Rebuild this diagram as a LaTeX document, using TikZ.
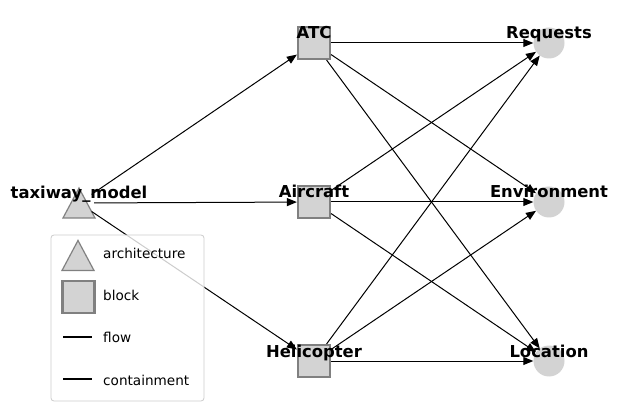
\documentclass[tikz,border=0pt]{standalone}
\usepackage{fontspec}
\setmainfont{DejaVu Sans}
\usetikzlibrary{arrows.meta, shapes.geometric}
\definecolor{nodefill}{HTML}{D3D3D3}
\definecolor{nodeedge}{HTML}{808080}
\definecolor{keyedge}{HTML}{CCCCCC}
\tikzset{
archmark/.style={fill=nodefill, draw=nodeedge, line width=1.2pt, line join=miter},
arch/.style={circle, minimum size=30pt, inner sep=0pt, draw=none,
  append after command={\pgfextra{\draw[archmark] ([yshift=15pt]\tikzlastnode.center) -- ([shift={(16pt,-15pt)}]\tikzlastnode.center) -- ([shift={(-16pt,-15pt)}]\tikzlastnode.center) -- cycle;}}}, % architecture marker
block/.style={rectangle, minimum size=32pt, inner sep=0pt, fill=nodefill, draw=nodeedge, line width=2.2pt}, % block marker
req/.style={circle, minimum size=31pt, inner sep=0pt, fill=nodefill, draw=none}, % requirement marker
flow/.style={-{Triangle[length=10pt,width=8pt]}, line width=1pt}, % directed edges
lbl/.style={anchor=base, inner sep=0pt, font=\fontsize{16.4}{19}\selectfont\bfseries}, % node labels
keytxt/.style={anchor=base west, inner sep=0pt, font=\fontsize{13.6}{16}\selectfont}, % legend texts
keyline/.style={line width=1.6pt},
}
\begin{document}
\begin{tikzpicture}[x=1pt,y=-1pt]
\useasboundingbox (0,0) rectangle (618,411);
% nodes
\node[arch] (tm) at (79,203) {};
\node[block] (atc) at (314,43) {};
\node[block] (aircraft) at (314,202) {};
\node[block] (heli) at (314,361) {};
\node[req] (requests) at (549,43) {};
\node[req] (env) at (549,202) {};
\node[req] (loc) at (549,361) {};
% edges
\foreach \t in {atc,aircraft,heli}
  \draw[flow] (tm) -- (\t);
\foreach \s in {atc,aircraft,heli}
  \foreach \t in {requests,env,loc}
    \draw[flow] (\s) -- (\t);
% labels
\node[lbl] (tm-lbl) at (79,199) {taxiway\_model};
\node[lbl] (atc-lbl) at (314,39) {ATC};
\node[lbl] (aircraft-lbl) at (314,198) {Aircraft};
\node[lbl] (heli-lbl) at (314,357) {Helicopter};
\node[lbl] (requests-lbl) at (549,39) {Requests};
\node[lbl] (env-lbl) at (549,198) {Environment};
\node[lbl] (loc-lbl) at (549,357) {Location};
% legend
\draw[draw=keyedge, fill=white, fill opacity=0.8, line width=0.8pt, rounded corners=3pt] (51,235) rectangle (204,401);
\node[arch] (key-arch) at (78,255.5) {};
\node[block] (key-block) at (78.5,297) {};
\coordinate (flow-a) at (63,337);
\coordinate (flow-b) at (92,337);
\coordinate (cont-a) at (63,379);
\coordinate (cont-b) at (92,379);
\draw[keyline] (flow-a) -- (flow-b);
\draw[keyline] (cont-a) -- (cont-b);
\node[keytxt] (arch-txt) at (103,259) {architecture};
\node[keytxt] (block-txt) at (103,301) {block};
\node[keytxt] (flow-txt) at (103,342.5) {flow};
\node[keytxt] (cont-txt) at (103,385) {containment};
\end{tikzpicture}
\end{document}
